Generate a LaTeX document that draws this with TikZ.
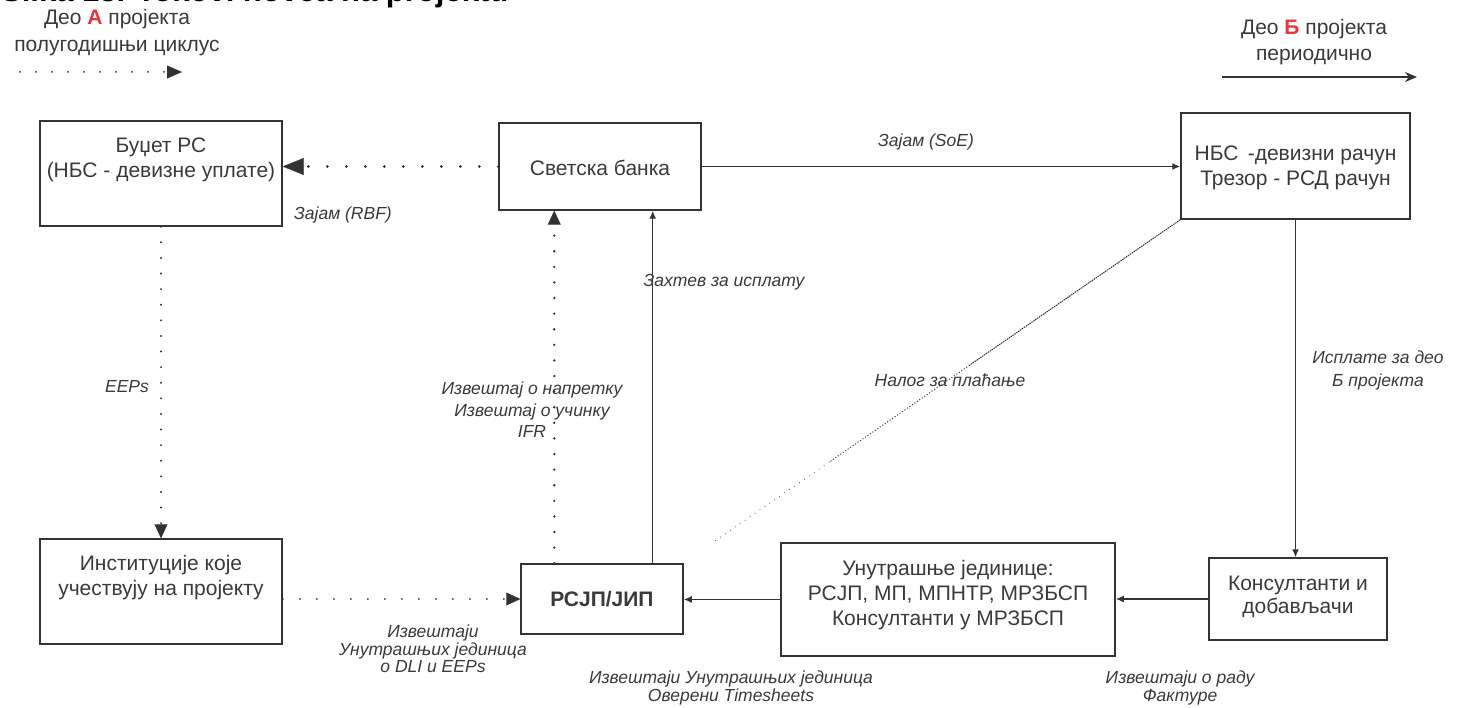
\documentclass[tikz,border=0pt]{standalone}
\usepackage{fontspec}
\setmainfont{Liberation Sans}
\usetikzlibrary{arrows.meta,calc}
\definecolor{ink}{HTML}{333333}
\definecolor{txtc}{HTML}{3A3A3A}
\definecolor{redA}{HTML}{E8343A}
\newcommand\boxfont{\fontsize{21}{25}\selectfont}
\newcommand\labfont{\fontsize{17.5}{18}\selectfont\itshape}
\begin{document}
\begin{tikzpicture}[x=1pt,y=-1pt,
  box/.style 2 args={draw=ink,line width=1.5pt,minimum width=#1,minimum height=#2,inner sep=0pt},
  btxt/.style={align=center,inner sep=0pt,text=txtc,font=\boxfont},
  lab/.style={align=center,inner sep=0pt,text=txtc,font=\labfont},
  solidarr/.style={draw=ink,line width=1.4pt,-{Latex[length=8pt,width=7pt]}},
  bigdot/.style={draw=ink,line width=3pt,line cap=round,dash pattern=on 0pt off 19pt,
    -{Triangle[length=21pt,width=17pt,line width=0.1pt]}},
  meddot/.style={draw=ink,line width=2.6pt,line cap=round,dash pattern=on 0pt off 15.6pt,
    -{Triangle[length=14pt,width=13pt,line width=0.1pt]}},
  smalldot/.style={draw=ink,line width=2pt,line cap=round,dash pattern=on 0pt off 17pt,
    -{Triangle[length=14pt,width=13pt,line width=0.1pt]}}
]
\useasboundingbox (0,0) rectangle (1462,708);

% title (cut off at top, as in the reference)
\node[anchor=base west,inner sep=0pt,font=\fontsize{31}{34}\selectfont\bfseries] (title) at (1,1.5) {Slika 13. Tokovi novca na projektu};

% legend
\node[btxt,font=\fontsize{21}{27}\selectfont] (legA) at (117,33) {Део {\bfseries\color{redA}А} пројекта\\полугодишњи циклус};
\coordinate (legAs) at (20,72);
\coordinate (legAe) at (182,72);
\draw[draw=ink,line width=2pt,line cap=round,dash pattern=on 0pt off 16pt,
  -{Triangle[length=15pt,width=13pt,line width=0.1pt]}] (legAs) -- (legAe);
\node[btxt,font=\fontsize{21}{26}\selectfont] (legB) at (1314,42) {Део {\bfseries\color{redA}Б} пројекта\\периодично};
\coordinate (legBs) at (1222,77);
\coordinate (legBe) at (1417,77);
\draw[draw=ink,line width=1.4pt,-{Stealth[length=12pt,width=10pt]}] (legBs) -- (legBe);

% boxes
\node[box={242}{105}] (budz) at (161,173.5) {};
\node[btxt] (budzT) at (161,160) {Буџет РС\\(НБС - девизне уплате)};
\node[box={202}{87}] (sb) at (600,166.5) {};
\node[btxt] (sbT) at (600,168) {Светска банка};
\node[box={229}{106}] (nbs) at (1295.5,166) {};
\node[btxt] (nbsT) at (1295.5,167.5) {НБС \,-девизни рачун\\Трезор - РСД рачун};
\node[box={242}{105}] (inst) at (161,591.5) {};
\node[btxt] (instT) at (161,577.5) {Институције које\\учествују на пројекту};
\node[box={162}{70}] (rsjp) at (602,599) {};
\node[btxt,font=\boxfont\bfseries] (rsjpT) at (602,599) {РСЈП/ЈИП};
\node[box={334}{113}] (un) at (948,599.5) {};
\node[btxt] (unT) at (948,595) {Унутрашње јединице:\\РСЈП, МП, МПНТР, МРЗБСП\\Консултанти у МРЗБСП};
\node[box={178}{82}] (kons) at (1298,599) {};
\node[btxt,font=\fontsize{21}{23}\selectfont] (konsT) at (1298,597) {Консултанти и\\добављачи};

% connectors
\draw[bigdot] (sb.west) -- (sb.west -| budz.east);
\draw[solidarr] (sb.east) -- (sb.east -| nbs.west);
\draw[meddot,line width=2.2pt] (budz.south) -- (inst.north);
\draw[smalldot] (rsjp.west -| inst.east) -- (rsjp.west);
\draw[meddot] ([xshift=34pt]rsjp.north west) -- ([xshift=34pt]rsjp.north west |- sb.south);
\draw[solidarr] ([xshift=-31pt]rsjp.north east) -- ([xshift=-31pt]rsjp.north east |- sb.south);
\draw[solidarr] (nbs.south) -- (nbs.south |- kons.north);
\draw[solidarr] (kons.west) -- (kons.west -| un.east);
\draw[solidarr] (un.west) -- (un.west -| rsjp.east);

% diagonal payment order line
\coordinate (diagEnd) at (712,543);
\draw[draw=ink,line width=1pt,dash pattern=on 1.5pt off 0.8pt] (nbs.south west) -- ($(nbs.south west)!0.45!(diagEnd)$);
\draw[draw=ink,line width=1pt,dash pattern=on 1pt off 2pt] ($(nbs.south west)!0.45!(diagEnd)$) -- ($(nbs.south west)!0.75!(diagEnd)$);
\draw[draw=ink,line width=1pt,line cap=round,dash pattern=on 0pt off 6pt] ($(nbs.south west)!0.75!(diagEnd)$) -- (diagEnd);

% labels
\node[lab] (l1) at (343,215) {Зајам (RBF)};
\node[lab] (l2) at (926,142) {Зајам (SoE)};
\node[lab] (l3) at (127,387) {EEPs};
\node[lab] (l4) at (724,282) {Захтев за исплату};
\node[lab,font=\fontsize{17.5}{21.5}\selectfont\itshape] (l5) at (532,410) {Извештај о напретку\\Извештај о учинку\\IFR};
\node[lab] (l6) at (950,380) {Налог за плаћање};
\node[lab,font=\fontsize{17.5}{23}\selectfont\itshape] (l7) at (1378,370.5) {Исплате за део\\Б пројекта};
\node[lab,font=\fontsize{17.5}{17.5}\selectfont\itshape] (l8) at (433,649) {Извештаји\\Унутрашњих јединица\\о DLI и EEPs};
\node[lab] (l9) at (731,688) {Извештаји Унутрашњих јединица\\Оверени Timesheets};
\node[lab] (l10) at (1180,688) {Извештаји о раду\\Фактуре};
\end{tikzpicture}
\end{document}
